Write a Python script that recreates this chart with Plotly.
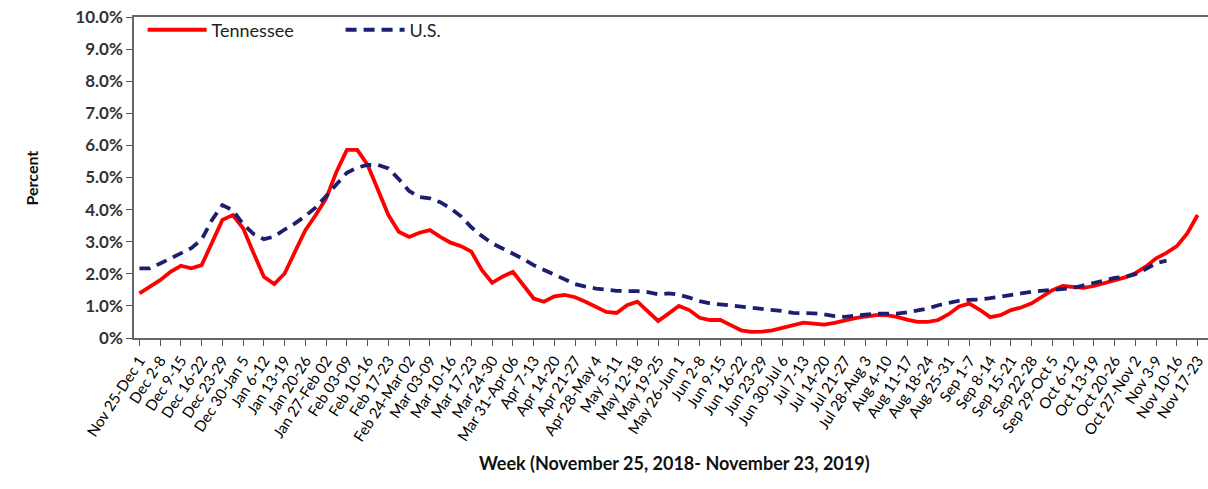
import numpy as np
import plotly.graph_objects as go

weeks = ["Nov 25-Dec 1", "Dec 2-8", "Dec 9-15", "Dec 16-22", "Dec 23-29", "Dec 30-Jan 5",
         "Jan 6-12", "Jan 13-19", "Jan 20-26", "Jan 27-Feb 02", "Feb 03-09", "Feb 10-16",
         "Feb 17-23", "Feb 24-Mar 02", "Mar 03-09", "Mar 10-16", "Mar 17-23", "Mar 24-30",
         "Mar 31-Apr 06", "Apr 7-13", "Apr 14-20", "Apr 21-27", "Apr 28-May 4", "May 5-11",
         "May 12-18", "May 19-25", "May 26-Jun 1", "Jun 2-8", "Jun 9-15", "Jun 16-22",
         "Jun 23-29", "Jun 30-Jul 6", "Jul 7-13", "Jul 14-20", "Jul 21-27", "Jul 28-Aug 3",
         "Aug 4-10", "Aug 11-17", "Aug 18-24", "Aug 25-31", "Sep 1-7", "Sep 8-14",
         "Sep 15-21", "Sep 22-28", "Sep 29-Oct 5", "Oct 6-12", "Oct 13-19", "Oct 20-26",
         "Oct 27-Nov 2", "Nov 3-9", "Nov 10-16", "Nov 17-23"]

# values read at half-week steps (percent)
tennessee = [1.39, 1.59, 1.80, 2.06, 2.25, 2.17, 2.27, 2.97, 3.68, 3.83,
             3.42, 2.65, 1.91, 1.68, 2.01, 2.69, 3.36, 3.83, 4.35, 5.18,
             5.86, 5.86, 5.39, 4.61, 3.83, 3.31, 3.15, 3.28, 3.36, 3.15,
             2.97, 2.86, 2.69, 2.12, 1.72, 1.91, 2.06, 1.65, 1.23, 1.13,
             1.30, 1.34, 1.27, 1.13, 0.97, 0.81, 0.78, 1.02, 1.13, 0.81,
             0.53, 0.76, 1.00, 0.87, 0.63, 0.56, 0.56, 0.40, 0.24, 0.19,
             0.20, 0.24, 0.33, 0.41, 0.48, 0.45, 0.42, 0.47, 0.56, 0.62,
             0.67, 0.71, 0.71, 0.66, 0.57, 0.50, 0.50, 0.56, 0.74, 0.98,
             1.07, 0.88, 0.65, 0.71, 0.87, 0.95, 1.08, 1.30, 1.49, 1.62,
             1.59, 1.56, 1.62, 1.71, 1.78, 1.89, 2.02, 2.22, 2.48, 2.65,
             2.86, 3.26, 3.83]

us = [2.17, 2.17, 2.32, 2.48, 2.66, 2.80, 3.07, 3.68, 4.14, 3.98,
      3.55, 3.24, 3.08, 3.16, 3.38, 3.57, 3.80, 4.07, 4.42, 4.80,
      5.15, 5.31, 5.39, 5.39, 5.28, 4.95, 4.58, 4.39, 4.35, 4.23,
      4.04, 3.79, 3.45, 3.18, 2.95, 2.79, 2.63, 2.46, 2.27, 2.13,
      1.96, 1.83, 1.68, 1.60, 1.54, 1.51, 1.47, 1.46, 1.46, 1.43,
      1.36, 1.39, 1.35, 1.26, 1.15, 1.08, 1.05, 1.01, 0.98, 0.95,
      0.92, 0.88, 0.84, 0.78, 0.78, 0.77, 0.74, 0.68, 0.66, 0.70,
      0.74, 0.76, 0.76, 0.76, 0.80, 0.85, 0.92, 1.02, 1.08, 1.16,
      1.19, 1.20, 1.24, 1.28, 1.33, 1.39, 1.44, 1.47, 1.49, 1.52,
      1.56, 1.64, 1.72, 1.81, 1.87, 1.90, 1.99, 2.15, 2.33, 2.41]

y_ticks = list(range(0, 11))
y_labels = ["0%"] + [f"{v}.0%" for v in range(1, 11)]

x_tn = np.arange(len(tennessee)) / 2.0
x_us = np.arange(len(us)) / 2.0

FONT = "Lato, 'Open Sans', sans-serif"

W, H = 1208, 489
L, T, B, R = 134, 17, 151, 0

fig = go.Figure()
fig.add_trace(go.Scatter(x=x_tn, y=tennessee, mode="lines", name="Tennessee",
                         line=dict(color="#FF0000", width=3.8)))
fig.add_trace(go.Scatter(x=x_us, y=us, mode="lines", name="U.S.",
                         line=dict(color="#1B1F6E", width=3.8, dash="11px,7px")))

# pixel -> paper coords of the plot area
PX0, PX1 = L, W - R
PY0, PY1 = T, H - B
def px_to_paper(px, py):
    return (px - PX0) / (PX1 - PX0), (PY1 - py) / (PY1 - PY0)

ax, ay = px_to_paper(20, 178)
bx, by = px_to_paper(674, 476)

fig.update_layout(
    width=W, height=H,
    margin=dict(l=L, r=R, t=T, b=B, pad=0),
    paper_bgcolor="white", plot_bgcolor="white",
    font=dict(family=FONT, color="#222222"),
    showlegend=True,
    legend=dict(orientation="h", x=0.008, y=1.017, xanchor="left", yanchor="top",
                bgcolor="rgba(0,0,0,0)", font=dict(size=18, color="#222222"),
                entrywidth=124, itemwidth=59),
    xaxis=dict(range=[-0.26, 51.5], tickmode="array",
               tickvals=list(range(len(weeks))), ticktext=weeks,
               tickangle=-57, tickfont=dict(size=15, family=FONT, color="#000000"),
               ticks="outside", ticklen=6, tickcolor="#555555",
               showline=True, linecolor="#666666", linewidth=1.5, mirror=True,
               showgrid=False, zeroline=False, automargin=False),
    yaxis=dict(range=[0, 10], tickmode="array", tickvals=y_ticks, ticktext=y_labels,
               tickfont=dict(size=17, family=FONT, color="#333333", weight="bold"),
               ticks="outside", ticklen=6, tickcolor="#555555",
               showline=True, linecolor="#666666", linewidth=1.5,
               showgrid=False, zeroline=False, automargin=False),
    annotations=[
        dict(text="<b>Percent</b>", x=ax, y=ay, xref="paper", yref="paper",
             showarrow=False, textangle=-90, font=dict(size=16, family=FONT, color="#111111")),
        dict(text="<b>Week (November 25, 2018- November 23, 2019)</b>", x=bx, y=by,
             xref="paper", yref="paper", showarrow=False,
             font=dict(size=18, family=FONT, color="#111111")),
    ],
)

fig.write_html(
    "out.html",
    config={"displayModeBar": False},
    post_script="document.body.style.margin='0';document.body.style.overflow='hidden';",
)
